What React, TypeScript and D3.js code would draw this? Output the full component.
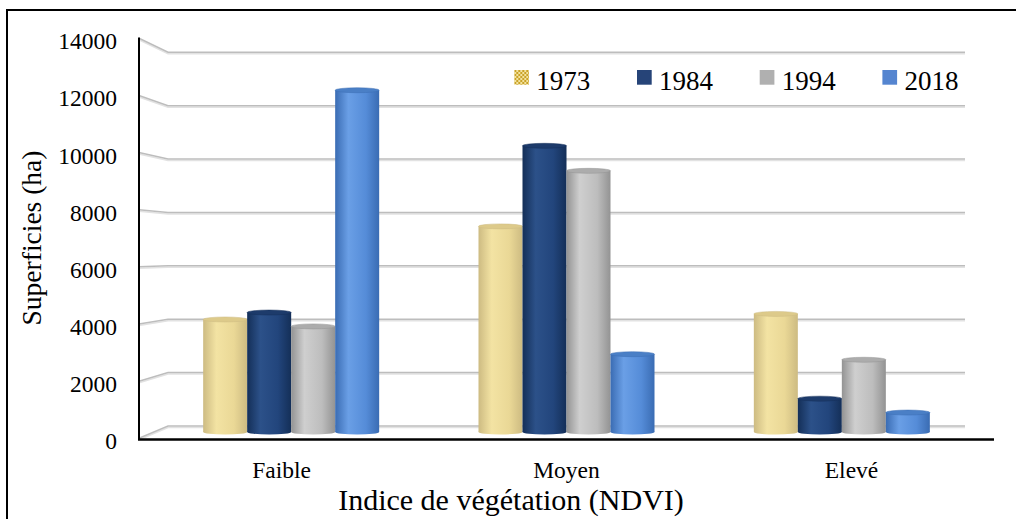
import React from 'react'
import { scaleLinear, scaleBand } from 'd3'

const categories = ['Faible', 'Moyen', 'Elevé']
const years = ['1973', '1984', '1994', '2018']
const v1973 = [4050, 7400, 4250]
const v1984 = [4300, 10300, 1200]
const v1994 = [3800, 9400, 2600]
const v2018 = [12300, 2800, 700]
const yTicks = [0, 2000, 4000, 6000, 8000, 10000, 12000, 14000]

const series = [v1973, v1984, v1994, v2018]

// cylinder shading: [edge, light, mid, top]
const shades = [
  ['#cdbb82', '#f3e3a3', '#ead896', '#ddca8a'],
  ['#142f58', '#2c5189', '#22457c', '#1d3b6b'],
  ['#939393', '#cfcfcf', '#bdbdbd', '#acacac'],
  ['#3a6cb3', '#6a9fe6', '#558cd8', '#4a7fc6']
]
const legendFill = ['url(#check)', '#264478', '#b0b0b0', '#5585d0']

const W = 1016
const H = 519
const FONT = '"Liberation Serif", "Times New Roman", serif'

export default function App() {
  const yFront = scaleLinear().domain([0, 14000]).range([438.3, 38.3])
  const yBack = scaleLinear().domain([0, 14000]).range([426, 52.3])
  const yBar = scaleLinear().domain([0, 14000]).range([432, 43])
  const xFront = scaleBand().domain(categories).range([139, 994])
  const xBar = scaleBand().domain(categories).range([153.5, 979.5])
  const xSeries = scaleBand().domain(years).range([0, 176])
  const bw = xSeries.bandwidth()
  const groupOffset = (xBar.bandwidth() - 176) / 2
  const ry = 2.5

  return (
    <svg width={W} height={H} style={{ position: 'fixed', left: 0, top: 0, background: '#fff' }} fontFamily={FONT}>
      <defs>
        {shades.map((s, i) => (
          <linearGradient key={i} id={`cyl${i}`} x1={0} x2={1} y1={0} y2={0}>
            <stop offset="0%" stopColor={s[0]} />
            <stop offset="30%" stopColor={s[1]} />
            <stop offset="70%" stopColor={s[2]} />
            <stop offset="100%" stopColor={s[0]} />
          </linearGradient>
        ))}
        <pattern id="check" width={4} height={4} patternUnits="userSpaceOnUse">
          <rect width={4} height={4} fill="#f3e3a0" />
          <rect width={2} height={2} fill="#c9a227" />
          <rect x={2} y={2} width={2} height={2} fill="#c9a227" />
        </pattern>
      </defs>

      <rect x={7} y={10} width={1100} height={600} fill="#fff" stroke="#000" strokeWidth={2} />

      <g className="grid" fill="none">
        {yTicks.map((t) => (
          <g key={t}>
            <path d={`M139,${yFront(t) + 1.5} L168,${yBack(t) + 1.5} L965,${yBack(t) + 1.5}`} stroke="#e2e2e2" strokeWidth={1.5} />
            <path d={`M139,${yFront(t)} L168,${yBack(t)} L965,${yBack(t)}`} stroke="#bdbdbd" strokeWidth={1.5} />
          </g>
        ))}
      </g>

      <g className="bars">
        {categories.map((c, ci) =>
          years.map((yr, si) => {
            const x = (xBar(c) as number) + groupOffset + (xSeries(yr) as number)
            const v = series[si][ci]
            const top = yBar(v)
            const base = yBar(0)
            const cx = x + bw / 2
            return (
              <g key={c + yr}>
                <ellipse cx={cx} cy={base} rx={bw / 2} ry={ry} fill={`url(#cyl${si})`} />
                <rect x={x} y={top} width={bw} height={base - top} fill={`url(#cyl${si})`} />
                <ellipse cx={cx} cy={top} rx={bw / 2} ry={ry} fill={shades[si][3]} stroke={shades[si][0]} strokeWidth={0.5} />
              </g>
            )
          })
        )}
      </g>

      <line x1={139} x2={139} y1={37.5} y2={439} stroke="#000" strokeWidth={2} />
      <line x1={138} x2={994} y1={439.5} y2={439.5} stroke="#000" strokeWidth={2.5} />

      <g className="y-ticks" fontSize={23.5} textAnchor="end" fill="#000">
        {yTicks.map((t) => (
          <text key={t} x={117} y={yFront(t) + 3} dominantBaseline="central">
            {t}
          </text>
        ))}
      </g>

      <g className="x-ticks" fontSize={23.5} textAnchor="middle">
        {categories.map((c) => (
          <text key={c} x={(xFront(c) as number) + xFront.bandwidth() / 2} y={478}>
            {c}
          </text>
        ))}
      </g>

      <text transform="translate(41,238) rotate(-90)" textAnchor="middle" fontSize={27.5}>
        Superficies (ha)
      </text>
      <text x={511} y={510} textAnchor="middle" fontSize={30}>
        Indice de végétation (NDVI)
      </text>

      <g className="legend" fontSize={27}>
        {years.map((yr, i) => (
          <g key={yr} transform={`translate(${514.3 + i * 122.7},70)`}>
            <rect width={14.7} height={14.7} fill={legendFill[i]} />
            <text x={22} y={20}>
              {yr}
            </text>
          </g>
        ))}
      </g>
    </svg>
  )
}
